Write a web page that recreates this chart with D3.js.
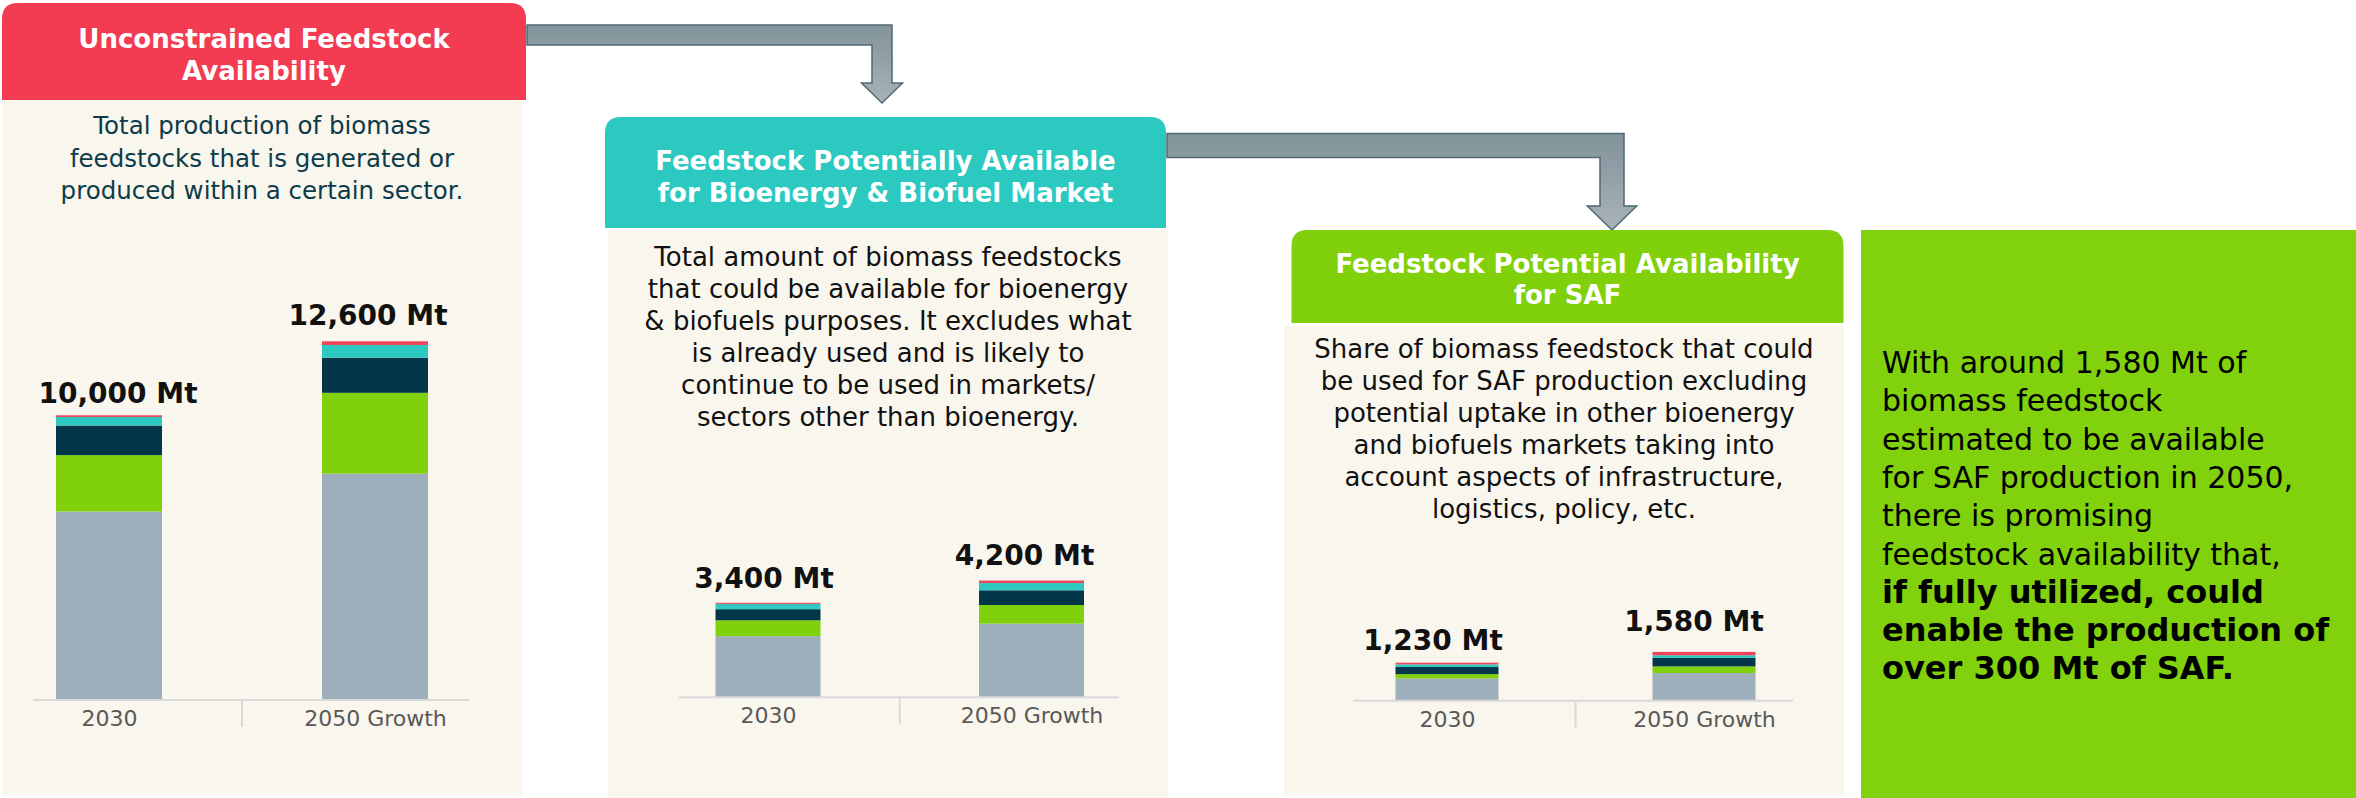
<!DOCTYPE html>
<html>
<head>
<meta charset="utf-8">
<script src="https://cdn.jsdelivr.net/npm/d3@7"></script>
<style>
  body { margin: 0; background: #fff; }
  svg { display: block; }
</style>
</head>
<body>
<div id="chart"></div>
<script>
// --- data -------------------------------------------------------------
const categories = ['2030', '2050 Growth']

// stack levels, bottom to top (the source chart has no legend)
const segmentKeys = ['s1', 's2', 's3', 's4', 's5']
const segmentColors = ['#9eaebb', '#80d00c', '#04364a', '#2dc9c1', '#f2445b']

// Mt per stack level, one array per bar
const unconstrained2030 = [6620, 1980, 1040, 300, 60]
const unconstrained2050 = [7950, 2840, 1230, 450, 130]
const bioenergy2030 = [2200, 570, 400, 190, 40]
const bioenergy2050 = [2650, 670, 530, 260, 90]
const saf2030 = [720, 140, 230, 85, 55]
const saf2050 = [895, 215, 275, 85, 110]

const headerUnconstrained = ['Unconstrained Feedstock', 'Availability']
const headerBioenergy = ['Feedstock Potentially Available', 'for Bioenergy & Biofuel Market']
const headerSaf = ['Feedstock Potential Availability', 'for SAF']

const textUnconstrained = [
  'Total production of biomass',
  'feedstocks that is generated or',
  'produced within a certain sector.'
]
const textBioenergy = [
  'Total amount of biomass feedstocks',
  'that could be available for bioenergy',
  '& biofuels purposes. It excludes what',
  'is already used and is likely to',
  'continue to be used in markets/',
  'sectors other than bioenergy.'
]
const textSaf = [
  'Share of biomass feedstock that could',
  'be used for SAF production excluding',
  'potential uptake in other bioenergy',
  'and biofuels markets taking into',
  'account aspects of infrastructure,',
  'logistics, policy, etc.'
]
const summaryLines = [
  'With around 1,580 Mt of',
  'biomass feedstock',
  'estimated to be available',
  'for SAF production in 2050,',
  'there is promising',
  'feedstock availability that,'
]
const summaryBoldLines = [
  'if fully utilized, could',
  'enable the production of',
  'over 300 Mt of SAF.'
]

// --- layout -----------------------------------------------------------
const width = 2356
const height = 798
const font = 'Verdana, "DejaVu Sans", sans-serif'
const beige = '#f9f6ee'

const panels = [
  {
    header: headerUnconstrained,
    text: textUnconstrained,
    values: [unconstrained2030, unconstrained2050],
    headColor: '#f33b51',
    textColor: '#0d3b49',
    head: [2, 3, 524, 97],
    body: [2, 100, 520, 695],
    headY: [48, 80],
    textY: 134,
    textSize: 24.5,
    lineH: 32.5,
    centers: [109, 375],
    barW: 106,
    axis: [33, 469, 700],
    yMax: 14050,
    labelDx: [9, -7],
    labelDy: [12.5, 16.5]
  },
  {
    header: headerBioenergy,
    text: textBioenergy,
    values: [bioenergy2030, bioenergy2050],
    headColor: '#2cc9c1',
    textColor: '#111',
    head: [605, 117, 561, 111],
    body: [608, 230, 560, 568],
    headY: [170, 202],
    textY: 266,
    textSize: 26,
    lineH: 32,
    centers: [768, 1031.5],
    barW: 105,
    axis: [679, 1119, 697.3],
    yMax: 14390,
    labelDx: [-4, -7],
    labelDy: [15, 16]
  },
  {
    header: headerSaf,
    text: textSaf,
    values: [saf2030, saf2050],
    headColor: '#80d00c',
    textColor: '#111',
    head: [1291.5, 230, 552, 93],
    body: [1284, 326, 560, 469],
    headY: [273, 304],
    textY: 358,
    textSize: 26,
    lineH: 32,
    centers: [1447, 1704],
    barW: 103,
    axis: [1353, 1793, 700.7],
    yMax: 12945,
    labelDx: [-14, -10],
    labelDy: [13, 20.5]
  }
]

const arrows = [
  { x0: 527, top: 25, t: 20, right: 892, shaftEnd: 83, half: 20.5, tip: 103 },
  { x0: 1167, top: 133.5, t: 24, right: 1624, shaftEnd: 206, half: 24.7, tip: 230 }
]

const formatTotal = d => `${d3.format(',')(d)} Mt`

const svg = d3.create('svg')
  .attr('width', width)
  .attr('height', height)
  .attr('viewBox', [0, 0, width, height])
  .attr('font-family', font)

const defs = svg.append('defs')
const arrowGradient = defs.append('linearGradient')
  .attr('id', 'arrowGradient')
  .attr('x1', '0%').attr('y1', '0%')
  .attr('x2', '0%').attr('y2', '100%')
arrowGradient.append('stop').attr('offset', '0%').attr('stop-color', '#82939a')
arrowGradient.append('stop').attr('offset', '100%').attr('stop-color', '#a8b3b8')

// rect with rounded top corners only
const topRounded = ([x, y, w, h], r) => `M${x},${y + h}V${y + r}Q${x},${y} ${x + r},${y}` +
  `H${x + w - r}Q${x + w},${y} ${x + w},${y + r}V${y + h}Z`

// elbow arrow: horizontal bar, then down into an arrow head
const arrowPath = a => {
  const c = a.right - a.t / 2
  return `M${a.x0},${a.top}H${a.right}V${a.shaftEnd}H${c + a.half}L${c},${a.tip}` +
    `L${c - a.half},${a.shaftEnd}H${a.right - a.t}V${a.top + a.t}H${a.x0}Z`
}

svg.append('g')
  .selectAll('path')
  .data(arrows)
  .join('path')
  .attr('d', arrowPath)
  .attr('fill', 'url(#arrowGradient)')
  .attr('stroke', '#4f6975')
  .attr('stroke-width', 1.5)
  .attr('stroke-linejoin', 'miter')

const stack = d3.stack().keys(segmentKeys)

panels.forEach(p => {
  const g = svg.append('g')

  g.append('rect')
    .attr('x', p.body[0])
    .attr('y', p.body[1])
    .attr('width', p.body[2])
    .attr('height', p.body[3])
    .attr('fill', beige)

  g.append('path')
    .attr('d', topRounded(p.head, 16))
    .attr('fill', p.headColor)

  g.append('text')
    .attr('fill', 'white')
    .attr('font-size', 26)
    .attr('font-weight', 'bold')
    .attr('text-anchor', 'middle')
    .selectAll('tspan')
    .data(p.header)
    .join('tspan')
    .attr('x', p.head[0] + p.head[2] / 2)
    .attr('y', (_, i) => p.headY[i])
    .text(d => d)

  const cx = p.body[0] + p.body[2] / 2
  g.append('text')
    .attr('fill', p.textColor)
    .attr('font-size', p.textSize)
    .attr('text-anchor', 'middle')
    .selectAll('tspan')
    .data(p.text)
    .join('tspan')
    .attr('x', cx)
    .attr('y', (_, i) => p.textY + i * p.lineH)
    .text(d => d)

  const rows = categories.map((c, i) => {
    const row = { category: c }
    segmentKeys.forEach((k, j) => { row[k] = p.values[i][j] })
    return row
  })
  const totals = p.values.map(v => d3.sum(v))

  const [a0, a1, base] = p.axis
  const x = d3.scalePoint(categories, p.centers)
  const y = d3.scaleLinear([0, p.yMax], [base, base - 400])

  g.append('g')
    .selectAll('g')
    .data(stack(rows))
    .join('g')
    .attr('fill', (_, i) => segmentColors[i])
    .selectAll('rect')
    .data(d => d)
    .join('rect')
    .attr('x', d => x(d.data.category) - p.barW / 2)
    .attr('y', d => y(d[1]))
    .attr('width', p.barW)
    .attr('height', d => y(d[0]) - y(d[1]))

  // baseline and the divider between the two categories
  const mid = (x(categories[0]) + x(categories[1])) / 2
  g.append('line')
    .attr('x1', a0).attr('x2', a1)
    .attr('y1', base).attr('y2', base)
    .attr('stroke', '#d9d9d9')
    .attr('stroke-width', 2)
  g.append('line')
    .attr('x1', mid).attr('x2', mid)
    .attr('y1', base).attr('y2', base + 27)
    .attr('stroke', '#d9d9d9')
    .attr('stroke-width', 2)

  g.append('g')
    .attr('transform', `translate(0, ${base})`)
    .call(d3.axisBottom(x).tickSize(0).tickPadding(10.5))
    .call(ax => ax.select('.domain').remove())
    .call(ax => ax.selectAll('text')
      .attr('font-family', font)
      .attr('font-size', 22)
      .attr('fill', '#595959'))

  g.append('g')
    .selectAll('text')
    .data(totals)
    .join('text')
    .attr('x', (_, i) => x(categories[i]) + p.labelDx[i])
    .attr('y', (d, i) => y(d) - p.labelDy[i])
    .attr('text-anchor', 'middle')
    .attr('font-size', 28)
    .attr('font-weight', 'bold')
    .attr('fill', '#111')
    .text(formatTotal)
})

// summary box on the right
const summary = svg.append('g')
summary.append('rect')
  .attr('x', 1861)
  .attr('y', 230)
  .attr('width', width - 1861)
  .attr('height', height - 230)
  .attr('fill', '#81d10c')

summary.append('text')
  .attr('fill', '#000')
  .selectAll('tspan')
  .data(summaryLines.map(t => ({ t, bold: false })).concat(summaryBoldLines.map(t => ({ t, bold: true }))))
  .join('tspan')
  .attr('x', 1882)
  .attr('y', (_, i) => 373 + i * 38.3)
  .attr('font-size', d => d.bold ? 32 : 30)
  .attr('font-weight', d => d.bold ? 'bold' : 'normal')
  .text(d => d.t)

d3.select('#chart').append(() => svg.node())
</script>
</body>
</html>
